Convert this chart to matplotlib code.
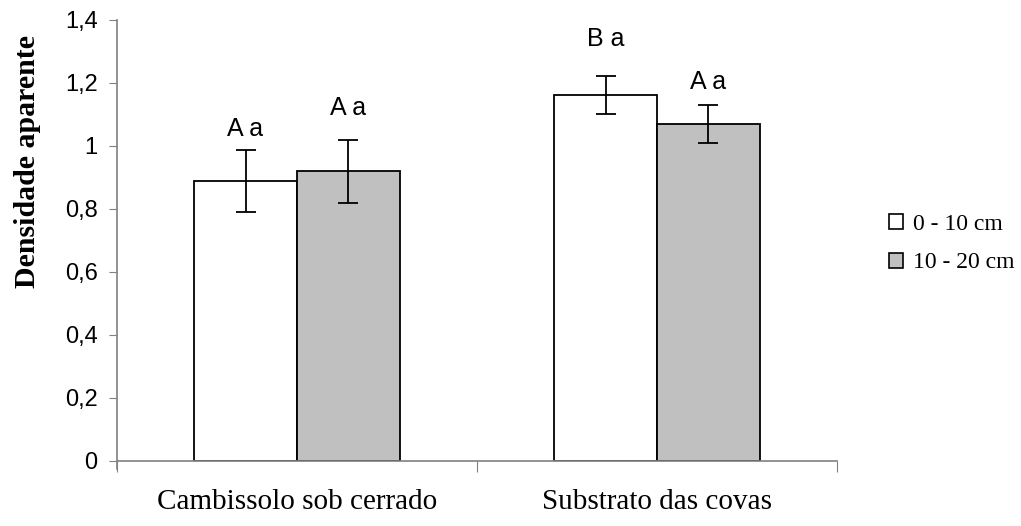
import numpy as np
import matplotlib
matplotlib.use('Agg')
import matplotlib.pyplot as plt
from matplotlib.patches import Patch

# Data
categories = ['Cambissolo sob cerrado', 'Substrato das covas']
series = ['0 - 10 cm', '10 - 20 cm']
values_0_10 = [0.89, 1.162]
values_10_20 = [0.92, 1.07]
err_0_10 = [0.098, 0.06]
err_10_20 = [0.10, 0.06]
labels_0_10 = ['A a', 'B a']
labels_10_20 = ['A a', 'A a']
label_y_0_10 = [1.054, 1.34]
label_y_10_20 = [1.121, 1.203]
yticks = [0, 0.2, 0.4, 0.6, 0.8, 1.0, 1.2, 1.4]
ytick_labels = ['0', '0,2', '0,4', '0,6', '0,8', '1', '1,2', '1,4']

fig = plt.figure(figsize=(10.21, 5.26), dpi=100)
ax = fig.add_axes([0.1146, 0.1236, 0.7052, 0.8384])

x = np.arange(len(categories))
w = 0.286
colors = ['white', '#c0c0c0']
all_vals = [values_0_10, values_10_20]
all_errs = [err_0_10, err_10_20]
all_labels = [labels_0_10, labels_10_20]
all_label_y = [label_y_0_10, label_y_10_20]

for k in range(2):
    pos = x + (k - 0.5) * w
    ax.bar(pos, all_vals[k], width=w, color=colors[k], edgecolor='black', linewidth=1.3, zorder=2)
    ax.errorbar(pos, all_vals[k], yerr=all_errs[k], fmt='none', ecolor='black',
                elinewidth=1.3, capsize=7, capthick=1.3, zorder=3)
    for p, ly, lab in zip(pos, all_label_y[k], all_labels[k]):
        ax.text(p, ly, lab, ha='center', va='center',
                fontsize=18, family='Liberation Sans')

ax.set_xlim(-0.5, 1.5)
ax.set_ylim(0, 1.4)
ax.set_yticks(yticks)
ax.set_yticklabels(ytick_labels, fontsize=17, family='Liberation Sans')
ax.set_xticks([-0.5, 0.5, 1.5])
ax.set_xticklabels([])
ax.set_xticks(x, minor=True)
ax.set_xticklabels(categories, minor=True, fontsize=21, family='Liberation Serif')
ax.tick_params(axis='x', which='minor', length=0, pad=20)
ax.tick_params(axis='x', which='major', length=8, color='#808080')
ax.tick_params(axis='y', length=6, color='#808080', pad=8)

for s in ['top', 'right']:
    ax.spines[s].set_visible(False)
for s in ['left', 'bottom']:
    ax.spines[s].set_color('#808080')
    ax.spines[s].set_linewidth(1.2)
ax.spines['left'].set_bounds(-0.025, 1.4)

ax.set_ylabel('Densidade aparente', fontsize=21.5, fontweight='bold',
              family='Liberation Serif')
ax.yaxis.set_label_coords(-0.106, 0.678)

handles = [Patch(facecolor=colors[k], edgecolor='black', linewidth=1.2, label=series[k]) for k in range(2)]
fig.legend(handles=handles, loc='center left', bbox_to_anchor=(0.850, 0.537),
           frameon=False, prop={'family': 'Liberation Serif', 'size': 17},
           handlelength=0.6, handleheight=0.6, handletextpad=0.4, labelspacing=0.75)

fig.savefig('out.png', dpi=100)
